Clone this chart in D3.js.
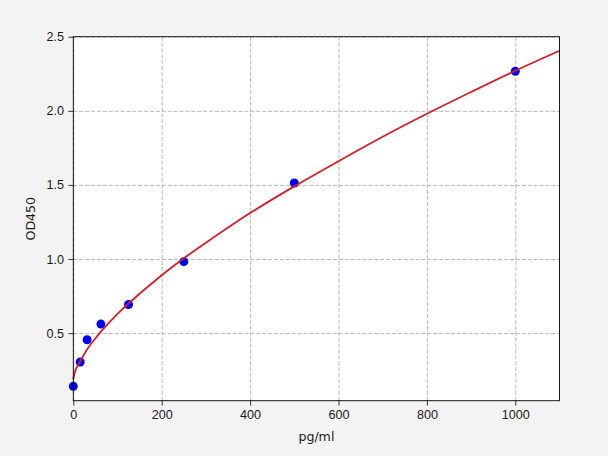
<!DOCTYPE html>
<html>
<head>
<meta charset="utf-8">
<script src="https://cdn.jsdelivr.net/npm/d3@7"></script>
<style>
  html, body { margin: 0; padding: 0; background: #f3f3f3; }
  svg { display: block; font-family: "DejaVu Sans", sans-serif; }
  .grid line { stroke: #b0b0b0; stroke-width: 0.9; stroke-dasharray: 4.1,1.8; }
  .grid path { display: none; }
  .axis path, .axis line { stroke: #000; stroke-width: 0.8; }
  .axis text { font-size: 12.6px; fill: #1a1a1a; }
</style>
</head>
<body>
<svg id="chart" width="608" height="456"></svg>
<script>
// standards (pg/ml) and measured OD
const conc = [0, 15.6, 31.25, 62.5, 125, 250, 500, 1000];
const od = [0.141, 0.305, 0.455, 0.561, 0.693, 0.982, 1.513, 2.267];

// fitted curve
const curveX = [0, 1, 3, 8, 15.6, 31.25, 50, 62.5, 100, 125, 200, 250, 300, 400, 500, 600, 700, 800, 900, 1000, 1100];
const curveY = [0.19, 0.205, 0.23, 0.27, 0.31, 0.39, 0.465, 0.51, 0.63, 0.70, 0.89, 1.005, 1.11, 1.31, 1.49, 1.66, 1.825, 1.98, 2.127, 2.27, 2.405];

const xTicks = [0, 200, 400, 600, 800, 1000];
const yTicks = [0.5, 1.0, 1.5, 2.0, 2.5];

const margin = {left: 73.3, right: 48.5, top: 36.7, bottom: 55.3};
const width = 608, height = 456;

const svg = d3.select("#chart");

const x = d3.scaleLinear().domain([0, 1100]).range([margin.left, width - margin.right]);
const y = d3.scaleLinear().domain([0.044, 2.5]).range([height - margin.bottom, margin.top]);

// plot background
svg.append("rect")
    .attr("x", x(0)).attr("y", y(2.5))
    .attr("width", x(1100) - x(0)).attr("height", y(0.044) - y(2.5))
    .attr("fill", "#fff");

// grid lines
svg.append("g")
    .attr("class", "grid")
    .attr("transform", "translate(0," + y(0.044) + ")")
    .call(d3.axisBottom(x).tickValues(xTicks).tickSize(-(y(0.044) - y(2.5))).tickFormat(""));
svg.append("g")
    .attr("class", "grid")
    .attr("transform", "translate(" + x(0) + ",0)")
    .call(d3.axisLeft(y).tickValues(yTicks).tickSize(-(x(1100) - x(0))).tickFormat(""));

// standards
svg.append("g")
    .selectAll("circle")
    .data(conc.map((c, i) => [c, od[i]]))
    .join("circle")
    .attr("cx", d => x(d[0]))
    .attr("cy", d => y(d[1]))
    .attr("r", 4.5)
    .attr("fill", "#0000ee");

// fitted curve
const line = d3.line().x(d => x(d[0])).y(d => y(d[1])).curve(d3.curveCatmullRom.alpha(0.5));
svg.append("path")
    .datum(curveX.map((c, i) => [c, curveY[i]]))
    .attr("fill", "none")
    .attr("stroke", "#d0202a")
    .attr("stroke-width", 1.8)
    .attr("d", line);

// frame
svg.append("rect")
    .attr("x", x(0)).attr("y", y(2.5))
    .attr("width", x(1100) - x(0)).attr("height", y(0.044) - y(2.5))
    .attr("fill", "none").attr("stroke", "#000").attr("stroke-width", 0.9);

// axes
const xAxis = svg.append("g")
    .attr("class", "axis")
    .attr("transform", "translate(0," + y(0.044) + ")")
    .call(d3.axisBottom(x).tickValues(xTicks).tickSize(4.9).tickPadding(4.5).tickFormat(d3.format("d")));
xAxis.select(".domain").remove();

const yAxis = svg.append("g")
    .attr("class", "axis")
    .attr("transform", "translate(" + x(0) + ",0)")
    .call(d3.axisLeft(y).tickValues(yTicks).tickSize(4.9).tickPadding(4.5).tickFormat(d3.format(".1f")));
yAxis.select(".domain").remove();

// axis titles
svg.append("text")
    .attr("x", (x(0) + x(1100)) / 2)
    .attr("y", 441)
    .attr("text-anchor", "middle")
    .attr("font-size", "12.6px")
    .attr("fill", "#1a1a1a")
    .text("pg/ml");

svg.append("text")
    .attr("transform", "translate(35," + ((y(0.044) + y(2.5)) / 2) + ") rotate(-90)")
    .attr("text-anchor", "middle")
    .attr("font-size", "12.6px")
    .attr("fill", "#1a1a1a")
    .text("OD450");
</script>
</body>
</html>
